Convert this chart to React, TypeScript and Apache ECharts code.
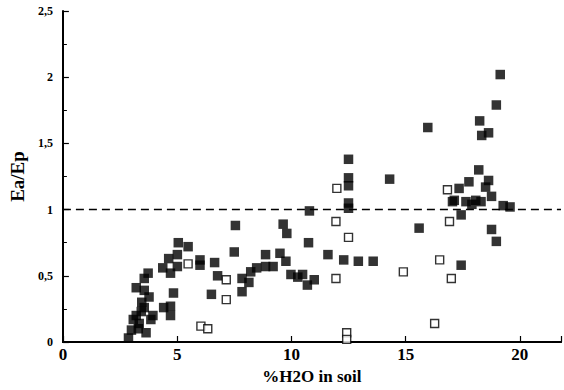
import React, { useEffect, useRef } from "react";
import * as echarts from "echarts";

// %H2O in soil, Ea/Ep — filled squares
const filledPoints: [number, number][] = [
  [2.87, 0.03], [3.0, 0.09], [3.08, 0.17], [3.21, 0.2], [3.43, 0.23], [3.56, 0.26],
  [3.34, 0.14], [3.64, 0.07], [3.85, 0.17], [3.94, 0.2], [3.21, 0.41], [3.56, 0.39],
  [3.77, 0.34], [3.56, 0.48], [3.73, 0.52], [3.3, 0.1], [3.45, 0.3],
  [4.41, 0.26], [4.71, 0.2], [4.71, 0.27], [4.84, 0.37], [4.37, 0.56], [4.71, 0.52],
  [4.63, 0.63], [5.01, 0.66], [5.05, 0.75], [5.48, 0.72], [5.01, 0.57],
  [6.0, 0.62], [6.0, 0.58], [6.64, 0.6], [6.77, 0.5], [6.5, 0.36], [7.5, 0.68],
  [7.55, 0.88], [7.84, 0.48], [7.84, 0.38], [8.14, 0.45], [8.22, 0.53], [8.48, 0.56],
  [8.87, 0.57], [9.2, 0.57], [8.87, 0.66], [9.5, 0.67], [9.64, 0.89], [9.8, 0.82],
  [9.76, 0.61], [9.98, 0.51], [10.28, 0.49], [10.49, 0.51], [10.7, 0.43], [11.0, 0.47],
  [10.79, 0.99], [10.75, 0.75], [11.6, 0.66], [12.29, 0.62], [12.93, 0.61], [13.58, 0.61],
  [12.5, 1.38], [12.5, 1.24], [12.5, 1.18], [12.5, 1.05], [12.5, 1.01],
  [14.3, 1.23], [15.97, 1.62], [15.59, 0.86], [17.05, 1.06], [17.13, 1.07], [17.34, 1.16],
  [17.77, 1.21], [18.07, 1.07], [17.64, 1.06], [18.2, 1.3], [18.63, 1.22], [18.5, 1.17],
  [18.76, 1.1], [19.27, 1.03], [19.57, 1.02], [17.9, 1.04], [18.3, 1.06],
  [17.43, 0.96], [17.43, 0.58], [18.76, 0.85], [18.97, 0.76],
  [18.24, 1.67], [18.33, 1.56], [18.63, 1.58], [18.97, 1.79], [19.14, 2.02],
];

// open squares
const openPoints: [number, number][] = [
  [5.48, 0.59], [6.04, 0.12], [6.34, 0.1], [7.15, 0.47], [7.15, 0.32],
  [11.99, 1.16], [11.95, 0.91], [12.5, 0.79], [11.95, 0.48], [12.42, 0.07], [12.42, 0.02],
  [14.9, 0.53], [16.27, 0.14], [16.49, 0.62], [16.83, 1.15], [16.92, 0.91], [17.0, 0.48],
];

const referenceLevel = 1;
const xTitle = "%H2O in soil";
const yTitle = "Ea/Ep";

const FONT = "Liberation Serif";

export default function App() {
  const ref = useRef<HTMLDivElement>(null);
  useEffect(() => {
    if (!ref.current) return;
    const chart = echarts.init(ref.current, null, { renderer: "svg" });
    chart.setOption({
      animation: false,
      backgroundColor: "#ffffff",
      grid: { left: 55, top: 11, right: 0, bottom: 48 },
      xAxis: [
        {
          type: "value",
          min: 0,
          max: 21.8,
          interval: 5,
          name: xTitle,
          nameLocation: "middle",
          nameGap: 26,
          nameTextStyle: { color: "#000", fontFamily: FONT, fontSize: 17, fontWeight: "bold" },
          axisLine: { show: true, onZero: false, lineStyle: { color: "#000", width: 2 } },
          axisTick: { show: true, inside: true, length: 6, lineStyle: { color: "#000", width: 1.2 } },
          axisLabel: {
            color: "#000",
            fontFamily: FONT,
            fontSize: 17,
            fontWeight: "bold",
            margin: 4,
            formatter: (v: number) => (Math.abs(v % 5) < 1e-9 ? String(v) : ""),
          },
          splitLine: { show: false },
        },
        {
          type: "value",
          position: "top",
          min: 0,
          max: 21.8,
          axisLine: { show: true, lineStyle: { color: "#000", width: 2 } },
          axisTick: { show: false },
          axisLabel: { show: false },
          splitLine: { show: false },
        },
      ],
      yAxis: {
        type: "value",
        min: 0,
        max: 2.5,
        interval: 0.5,
        name: yTitle,
        nameLocation: "middle",
        nameGap: 25,
        nameRotate: 90,
        nameTextStyle: { color: "#000", fontFamily: FONT, fontSize: 19, fontWeight: "bold" },
        axisLine: { show: true, onZero: false, lineStyle: { color: "#000", width: 2 } },
        axisTick: { show: true, inside: true, length: 6, lineStyle: { color: "#000", width: 1.2 } },
        minorTick: { show: true, splitNumber: 2, length: 4, lineStyle: { color: "#000", width: 1 } },
        axisLabel: {
          color: "#000",
          fontFamily: FONT,
          fontSize: 12,
          fontWeight: "bold",
          margin: 10,
          formatter: (v: number) => String(v).replace(".", ","),
        },
        splitLine: { show: false },
      },
      series: [
        {
          type: "scatter",
          name: "filled",
          data: filledPoints,
          symbol: "rect",
          symbolSize: 9.5,
          itemStyle: { color: "#000" },
          markLine: {
            silent: true,
            symbol: "none",
            label: { show: false },
            lineStyle: { color: "#000", type: [8, 5], width: 1.3 },
            data: [{ yAxis: referenceLevel }],
          },
        },
        {
          type: "scatter",
          name: "open",
          data: openPoints,
          symbol: "rect",
          symbolSize: 8,
          itemStyle: { color: "#fff", borderColor: "#000", borderWidth: 1.4 },
        },
      ],
    });
    return () => chart.dispose();
  }, []);
  return (
    <div
      ref={ref}
      style={{ position: "absolute", left: 0, top: 0, width: 564, height: 390 }}
    />
  );
}
